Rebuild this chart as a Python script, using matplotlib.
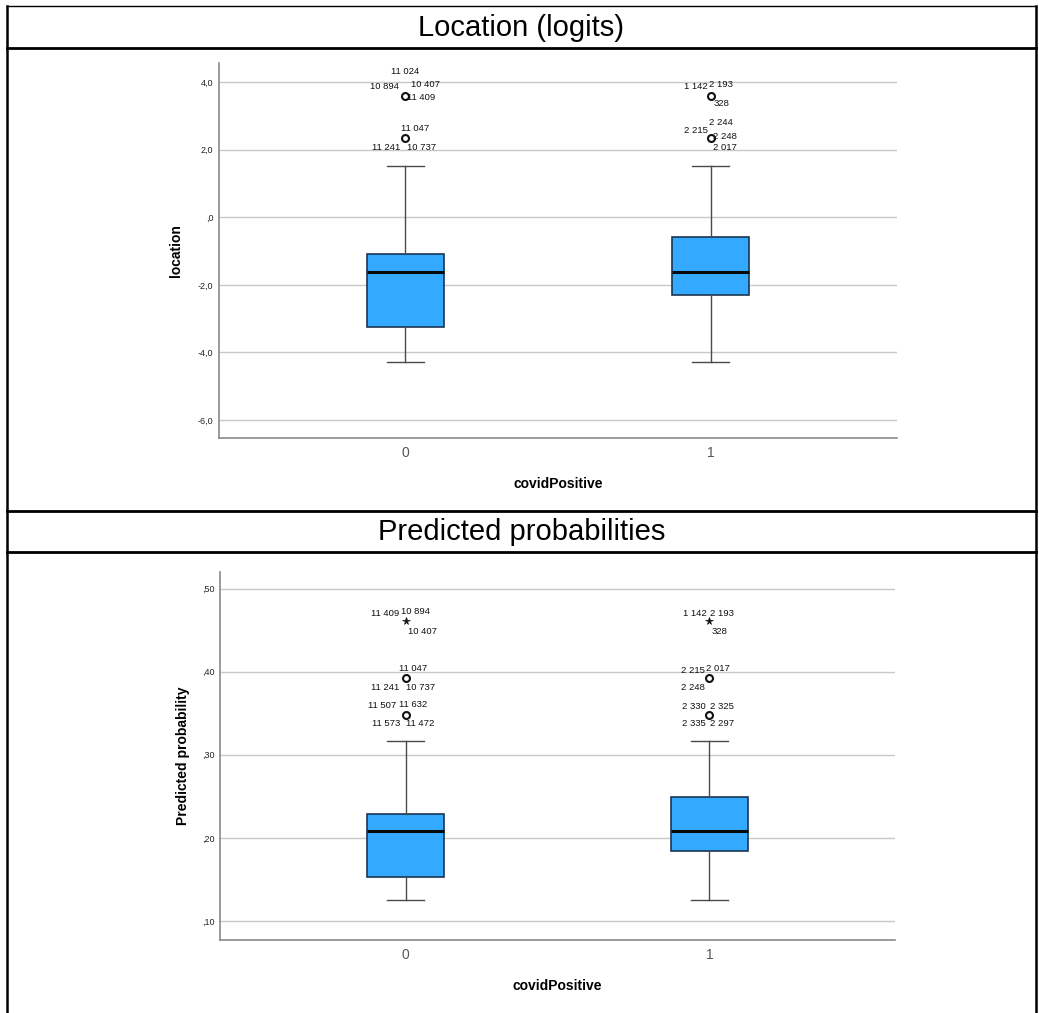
import matplotlib
matplotlib.use("Agg")
import matplotlib.pyplot as plt
from matplotlib.lines import Line2D

plt.rcParams['font.family'] = ['Liberation Sans', 'DejaVu Sans']

groups = ['0', '1']

# location (logits) summary per covidPositive group
loc_q1 = [-3.24, -2.30]
loc_med = [-1.61, -1.61]
loc_q3 = [-1.08, -0.58]
loc_lo = [-4.28, -4.28]
loc_hi = [1.50, 1.50]
loc_out = [3.59, 2.33]
loc_out_ids = [
    [['11 024', '10 894', '10 407', '11 409'], ['11 047', '11 241', '10 737']],
    [['1 142', '2 193', '328'], ['2 244', '2 215', '2 248', '2 017']],
]

# predicted probability summary per group
prob_q1 = [0.153, 0.184]
prob_med = [0.208, 0.208]
prob_q3 = [0.229, 0.249]
prob_lo = [0.125, 0.125]
prob_hi = [0.317, 0.317]
prob_ext = [0.461, 0.461]          # extreme values (star)
prob_out = [0.392, 0.348]          # outliers (circle)
prob_ext_ids = [['11 409', '10 894', '10 407'], ['1 142', '2 193', '328']]
prob_out_ids = [
    [['11 047', '11 241', '10 737'], ['11 507', '11 632', '11 573', '11 472']],
    [['2 215', '2 017', '2 248'], ['2 330', '2 325', '2 335', '2 297']],
]

# label offsets (pixels) around each outlier marker
loc_offsets = [
    [[(0, 24), (-21, 9), (20, 11), (16, -2)], [(10, 10), (-19, -9), (16, -9)]],
    [[(-15, 9), (10, 11), (11, -8)], [(10, 16), (-15, 8), (14, 2), (14, -9)]],
]
prob_ext_offsets = [[(-20, 8), (10, 10), (17, -10)], [(-15, 8), (13, 8), (10, -10)]]
prob_out_offsets = [
    [[(8, 10), (-20, -9), (15, -9)], [(-23, 9), (8, 10), (-19, -9), (15, -9)]],
    [[(-16, 8), (9, 10), (-16, -9)], [(-16, 8), (13, 8), (-16, -9), (13, -9)]],
]

W, H = 1039, 1013
fig = plt.figure(figsize=(W / 100, H / 100), dpi=100)

BOX_FACE = '#33aaff'
BOX_EDGE = '#1c3550'
GRID = '#c8c8c8'
SPINE = '#8a8a8a'


def px_axes(x0, y0, x1, y1):
    return fig.add_axes([x0 / W, 1 - y1 / H, (x1 - x0) / W, (y1 - y0) / H])


def style_axes(ax, ylim, yticks, ylabels, ylabel, ylab_x):
    ax.set_xlim(-0.611, 1.611)
    ax.set_ylim(*ylim)
    ax.set_yticks(yticks)
    ax.set_yticklabels(ylabels, fontsize=6.5, color='#222222')
    ax.set_xticks([0, 1])
    ax.set_xticklabels(groups, fontsize=10, color='#555555')
    ax.tick_params(length=0, pad=4)
    ax.tick_params(axis='x', pad=6)
    for s in ['top', 'right']:
        ax.spines[s].set_visible(False)
    for s in ['left', 'bottom']:
        ax.spines[s].set_color(SPINE)
        ax.spines[s].set_linewidth(1.2)
    ax.yaxis.grid(True, color=GRID, linewidth=1.0)
    ax.set_axisbelow(True)
    ax.set_xlabel('covidPositive', fontsize=10, fontweight='bold', labelpad=12)
    ax.set_ylabel(ylabel, fontsize=10, fontweight='bold')
    ax.yaxis.set_label_coords(ylab_x, 0.5)


def draw_boxes(ax, q1, med, q3, lo, hi):
    stats = []
    for i in range(len(groups)):
        stats.append({'q1': q1[i], 'med': med[i], 'q3': q3[i],
                      'whislo': lo[i], 'whishi': hi[i], 'fliers': []})
    ax.bxp(stats, positions=[0, 1], widths=0.255, patch_artist=True,
           showfliers=False,
           boxprops=dict(facecolor=BOX_FACE, edgecolor=BOX_EDGE, linewidth=1.2),
           medianprops=dict(color='#0a0a0a', linewidth=2.2),
           whiskerprops=dict(color='#4a4a4a', linewidth=1.0),
           capprops=dict(color='#4a4a4a', linewidth=1.0), capwidths=0.12)


def label_point(ax, x, y, ids, offsets):
    for text, (dx, dy) in zip(ids, offsets):
        ax.annotate(text, (x, y), xytext=(dx, dy), textcoords='offset pixels',
                    ha='center', va='center', fontsize=6.8, color='#111111')


# --- location panel
ax1 = px_axes(219, 63, 897, 438)
style_axes(ax1, (-6.53, 4.56), [-6, -4, -2, 0, 2, 4],
           ['-6,0', '-4,0', '-2,0', ',0', '2,0', '4,0'], 'location', -0.053)
draw_boxes(ax1, loc_q1, loc_med, loc_q3, loc_lo, loc_hi)
for g in range(len(groups)):
    for k, val in enumerate(loc_out):
        ax1.plot(g, val, marker='o', markersize=5, markerfacecolor='white',
                 markeredgecolor='#111111', markeredgewidth=1.5)
        label_point(ax1, g, val, loc_out_ids[g][k], loc_offsets[g][k])

# --- predicted probability panel
ax2 = px_axes(220, 572, 895, 940)
style_axes(ax2, (0.077, 0.52), [0.1, 0.2, 0.3, 0.4, 0.5],
           [',10', ',20', ',30', ',40', ',50'], 'Predicted probability', -0.045)
draw_boxes(ax2, prob_q1, prob_med, prob_q3, prob_lo, prob_hi)
for g in range(len(groups)):
    ax2.plot(g, prob_ext[g], marker='*', markersize=5.5, color='#111111',
             markeredgewidth=0.5)
    label_point(ax2, g, prob_ext[g], prob_ext_ids[g], prob_ext_offsets[g])
    for k, val in enumerate(prob_out):
        ax2.plot(g, val, marker='o', markersize=5, markerfacecolor='white',
                 markeredgecolor='#111111', markeredgewidth=1.5)
        label_point(ax2, g, val, prob_out_ids[g][k], prob_out_offsets[g][k])

# --- table frame with title rows
LEFT, RIGHT = 7, 1036


def hline(y, lw):
    fig.add_artist(Line2D([LEFT / W, RIGHT / W], [1 - y / H, 1 - y / H],
                          color='black', linewidth=lw))


def vline(x, lw):
    fig.add_artist(Line2D([x / W, x / W], [1 - 6 / H, 0], color='black',
                          linewidth=lw))


hline(6, 1.0)
hline(48, 2.0)
hline(511, 2.0)
hline(552, 2.0)
vline(LEFT, 1.8)
vline(RIGHT, 1.8)

fig.text((LEFT + RIGHT) / 2 / W, 1 - 28 / H, 'Location (logits)',
         ha='center', va='center', fontsize=21)
fig.text((LEFT + RIGHT) / 2 / W, 1 - 532 / H, 'Predicted probabilities',
         ha='center', va='center', fontsize=21)

fig.savefig('out.png', dpi=100, facecolor='white')
